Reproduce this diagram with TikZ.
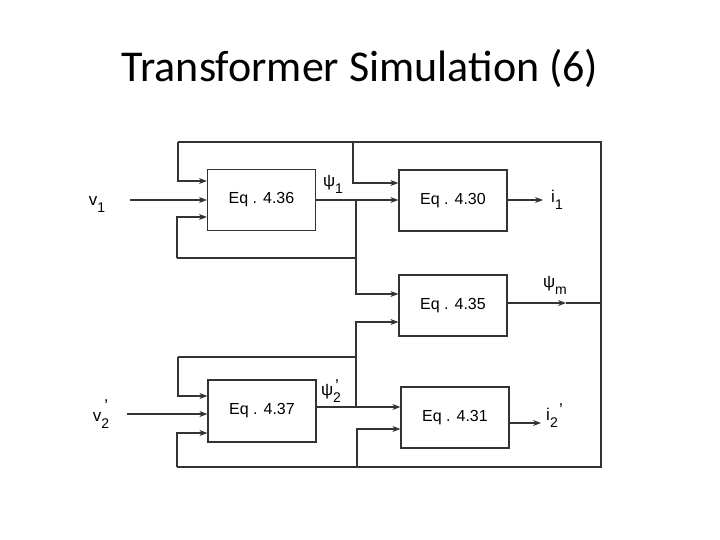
\documentclass[tikz,border=0pt]{standalone}
\usepackage{fontspec}
\setmainfont{Liberation Sans}
\newfontfamily\titlefont{Carlito}
\usetikzlibrary{arrows.meta}
\tikzset{
  wire/.style={draw=black!80, line width=1.2pt},
  arr/.style={wire, -{Stealth[length=8pt,width=6pt]}},
  eqbox/.style={draw=black!80, line width=1.2pt, rectangle, minimum width=108pt, minimum height=61pt, inner sep=0pt, font=\fontsize{16}{18}\selectfont},
  lab/.style={inner sep=0pt, font=\fontsize{17}{19}\selectfont}
}
\newcommand{\sbx}[1]{\raisebox{-7pt}{\fontsize{14}{14}\selectfont #1}}
\newcommand{\prm}[2]{\rlap{\hspace{#1}\raisebox{#2}{'}}}
\begin{document}
\begin{tikzpicture}[x=1pt,y=-1pt]
\useasboundingbox (0,0) rectangle (720,540);
% title
\node[anchor=base, inner sep=0pt, font=\titlefont\fontsize{44}{48}\selectfont] (title) at (360,82) {Transformer Simulation (6)};
% boxes
\node[eqbox] (b436) at (261.5,200) {Eq . 4.36};
\node[eqbox] (b430) at (453,200.5) {Eq . 4.30};
\node[eqbox] (b435) at (453,305.5) {Eq . 4.35};
\node[eqbox, minimum height=62pt] (b437) at (262,411) {Eq . 4.37};
\node[eqbox] (b431) at (455,417.5) {Eq . 4.31};
% labels
\node[lab] (v1) at (97,205) {v\sbx{1}};
\node[lab] (v2) at (101,414) {v\prm{3pt}{10pt}\sbx{2}};
\node[lab] (psi1) at (333,184) {ψ\sbx{1}};
\node[lab] (psim) at (555,285) {ψ\sbx{m}};
\node[lab] (psi2) at (331,391) {ψ\prm{2pt}{4pt}\sbx{2}};
\node[lab] (i1) at (557,200) {i\sbx{1}};
\node[lab] (i2) at (552,416) {i\prm{9pt}{5pt}\sbx{2}};
% coordinates
\coordinate (v1s) at (130,200);
\coordinate (v2s) at (127,414);
\coordinate (i1e) at (543,200);
\coordinate (i2e) at (541,423);
\coordinate (pmtip) at (566,303);
\coordinate (rj) at (601,303);
\coordinate (tr) at (601,142);
\coordinate (tl) at (178,142);
\coordinate (tb) at (353,142);
\coordinate (br) at (601,467);
\coordinate (bl) at (177,467);
\coordinate (bb) at (357,467);
\coordinate (j1) at (356,200);
\coordinate (j1l) at (356,258);
\coordinate (j2) at (356,407);
\coordinate (j2l) at (356,357);
% psi_m feedback
\draw[arr] (b435.east |- rj) -- (pmtip);
\draw[wire] (pmtip) -- (rj) -- (tr) -- (tl);
\draw[arr] (tl) -- (tl |- 0,181) -- (b436.west |- 0,181);
\draw[arr] (tb) -- (tb |- 0,183) -- (b430.west |- 0,183);
\draw[wire] (rj) -- (br) -- (bl);
\draw[arr] (bl) -- (bl |- 0,433) -- (b437.west |- 0,433);
\draw[arr] (bb) -- (bb |- 0,429) -- (b431.west |- 0,429);
% v inputs
\draw[arr] (v1s) -- (b436.west |- v1s);
\draw[arr] (v2s) -- (b437.west |- v2s);
% psi_1
\draw[arr] (b436.east |- j1) -- (b430.west |- j1);
\draw[arr] (j1) -- (j1 |- 0,294) -- (b435.west |- 0,294);
\draw[wire] (j1l) -- (177,258);
\draw[arr] (177,258) -- (177,217) -- (b436.west |- 0,217);
% psi_2'
\draw[arr] (b437.east |- j2) -- (b431.west |- j2);
\draw[arr] (j2) -- (j2 |- 0,322) -- (b435.west |- 0,322);
\draw[wire] (j2l) -- (178,357);
\draw[arr] (178,357) -- (178,396) -- (b437.west |- 0,396);
% outputs
\draw[arr] (b430.east |- i1e) -- (i1e);
\draw[arr] (b431.east |- i2e) -- (i2e);
\end{tikzpicture}
\end{document}
